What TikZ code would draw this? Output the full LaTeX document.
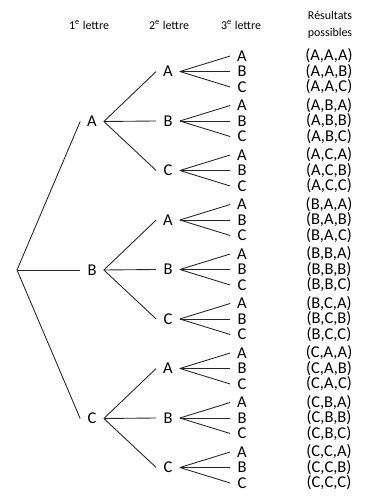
\documentclass[tikz,border=0pt]{standalone}
\usepackage{fontspec}
\setmainfont{Carlito}
\usetikzlibrary{positioning}

\begin{document}
\begin{tikzpicture}[
x=0.02cm, y=-0.02cm,
letter/.style={inner sep=0pt, minimum width=0.46cm, minimum height=0.3cm, font=\fontsize{9.4}{9.4}\selectfont},
result/.style={inner sep=0pt, font=\fontsize{9.4}{9.4}\selectfont},
head/.style={inner sep=0pt, align=center, font=\fontsize{6.8}{9.6}\selectfont},
branch/.style={line width=0.5pt, black!85}
]
\useasboundingbox (0,0) rectangle (381,499);

% column titles
\node[head] (h1) at (89,25) {1\textsuperscript{e} lettre};
\node[head] (h2) at (169,25) {2\textsuperscript{e} lettre};
\node[head] (h3) at (241,25) {3\textsuperscript{e} lettre};
\node[head] (h4) at (330,25) {Résultats\\possibles};

\coordinate (root) at (17,270);

% tree: first, second and third letter
\foreach \p [count=\i from 0] in {A,B,C} {
  \node[letter] (\p) at (92, 121.5+148.5*\i) {\p};
  \draw[branch] (root) -- (\p.west);
  \foreach \q [count=\j from 0] in {A,B,C} {
    \node[letter] (\p\q) at (168, 71.5+148.5*\i+49.5*\j) {\q};
    \draw[branch] (\p.east) -- (\p\q.west);
    \foreach \r [count=\k from 0] in {A,B,C} {
      \node[letter] (\p\q\r) at (242, 56+148.5*\i+49.5*\j+15.5*\k) {\r};
      \draw[branch] (\p\q.east) -- (\p\q\r.west);
      \node[result] (res\p\q\r) at (329, 56+148.5*\i+49.5*\j+15.5*\k) {(\p,\q,\r)};
    }
  }
}
\end{tikzpicture}
\end{document}
